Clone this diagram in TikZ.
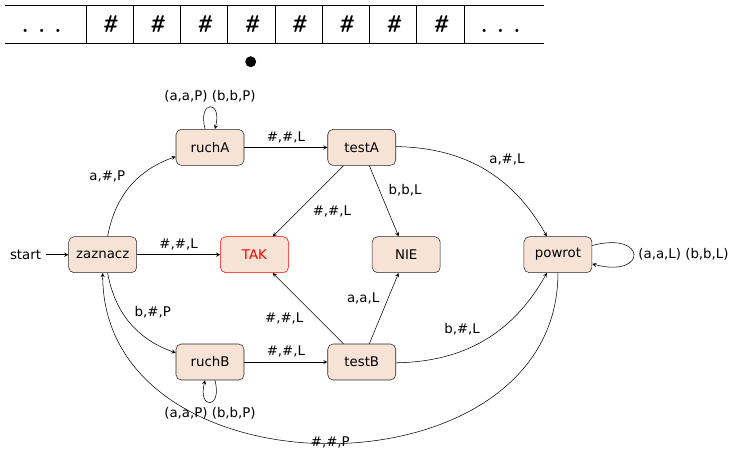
\documentclass[tikz,border=0pt]{standalone}
\usepackage{fontspec}
\usepackage{tikz}
\usetikzlibrary{arrows,positioning}
\newfontfamily\dejavu{DejaVu Sans}
\definecolor{stanfill}{RGB}{247,227,214}
\tikzstyle{stan} = [rectangle, rounded corners, minimum width = 51pt, minimum height = 27pt, text centered, draw = black!85, fill = stanfill]
\tikzstyle{akcept} = [stan, draw = red, text = red]
\tikzstyle{arrow} = [->,>=stealth]
\tikzstyle{komorka} = [font = \ttfamily\huge]
\tikzstyle{tasma} = [semithick]

\begin{document}
\begin{tikzpicture}[x = 0.75pt, y = 0.75pt, node distance = 4cm, auto, every node/.append style = {font = \dejavu}]
\useasboundingbox (0,0) rectangle (732,450);

% tasma
\draw [tasma] (5,444.3) -- (544.3,444.3);
\draw [tasma] (5,406.7) -- (544.3,406.7);
\foreach \i in {0,...,8}
  \draw [tasma] (86+47.24*\i,444.3) -- (86+47.24*\i,406.7);
\foreach \i in {0,...,7}
  \node (pole\i) [komorka] at (109.6+47.24*\i,426) {\slshape\#};
\node (lewo)  [komorka, anchor = base] at (41.7,417.8) {.\hspace{1.6pt}.\hspace{1.6pt}.};
\node (prawo) [komorka, anchor = base] at (500.5,417.8) {.\hspace{1.6pt}.\hspace{1.6pt}.};
\node (glowica) [circle, fill = black, inner sep = 0pt, minimum size = 8.2pt] at (250.7,388.3) {};

% stany
\node(zaznacz) [stan] at (102.7,195.3) {zaznacz};
\node(ruchA)   [stan, above right of = zaznacz] {ruchA};
\node(testA)   [stan, right of = ruchA] {testA};
\node(TAK)     [akcept, right of = zaznacz] {TAK};
\node(NIE)     [stan, right of = TAK] {NIE};
\node(powrot)  [stan, right of = NIE] {powrot};
\node(ruchB)   [stan, below right of = zaznacz] {ruchB};
\node(testB)   [stan, right of = ruchB] {testB};
\node(start)   [left = 17pt of zaznacz] {start};

% przejscia
\draw [arrow] (start) -- (zaznacz);
\draw [arrow] (zaznacz) to [bend left] node {a,\#,P} (ruchA);
\draw [arrow] (zaznacz) to [bend right] node {b,\#,P} (ruchB);
\draw [arrow] (zaznacz) -- node {\#,\#,L} (TAK);
\draw [arrow] (ruchA) to [loop above] node {(a,a,P) (b,b,P)} (ruchA);
\draw [arrow] (ruchA) -- node {\#,\#,L} (testA);
\draw [arrow] (testA) -- node {\#,\#,L} (TAK);
\draw [arrow] (testA) -- node {b,b,L} (NIE);
\draw [arrow] (testA) to [bend left] node {a,\#,L} (powrot);
\draw [arrow] (ruchB) to [loop below] node {(a,a,P) (b,b,P)} (ruchB);
\draw [arrow] (ruchB) -- node {\#,\#,L} (testB);
\draw [arrow] (testB) -- node {\#,\#,L} (TAK);
\draw [arrow] (testB) -- node {a,a,L} (NIE);
\draw [arrow] (testB) to [bend right] node {b,\#,L} (powrot);
\draw [arrow] (powrot) to [loop right] node {(a,a,L) (b,b,L)} (powrot);
\draw [arrow] (powrot) to [out = -90, in = -90, looseness = 1.28] node [anchor = base, yshift = -2pt] {\#,\#,P} (zaznacz);

\end{tikzpicture}
\end{document}
